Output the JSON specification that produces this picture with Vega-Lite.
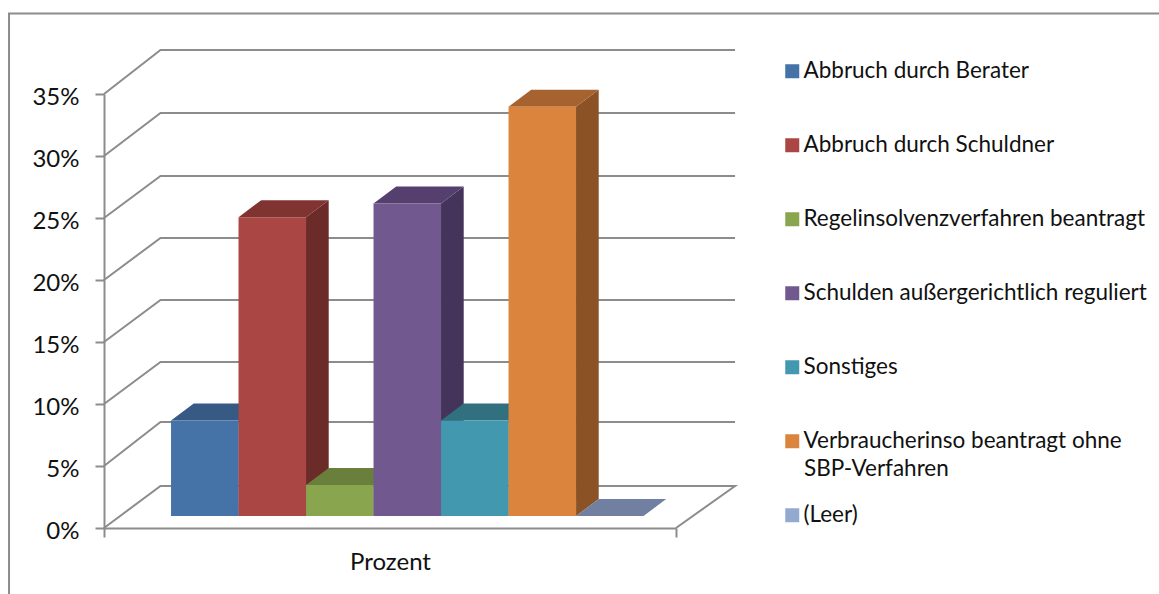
{"$schema":"https://vega.github.io/schema/vega-lite/v6.json","width":572,"height":434,"autosize":"none","padding":{"left":104,"top":94,"right":483,"bottom":66},"background":"white","config":{"view":{"stroke":null},"font":"Lato"},
"datasets":{
"bars":[{"k":"Abbruch durch Berater","v":7.7,"s":0,"e":1},{"k":"Abbruch durch Schuldner","v":24.1,"s":1,"e":2},{"k":"Regelinsolvenzverfahren beantragt","v":2.5,"s":2,"e":3},{"k":"Schulden außergerichtlich reguliert","v":25.2,"s":3,"e":4},{"k":"Sonstiges","v":7.7,"s":4,"e":5},{"k":"Verbraucherinso beantragt ohne SBP-Verfahren","v":33,"s":5,"e":6},{"k":"(Leer)","v":0,"s":6,"e":7}],
"faces":[
{"f":"a-side","o":0,"x":1,"y":0},{"f":"a-side","o":1,"x":1.336,"y":1.37},{"f":"a-side","o":2,"x":1.336,"y":9.07},{"f":"a-side","o":3,"x":1,"y":7.7},
{"f":"a-top","o":0,"x":0,"y":7.7},{"f":"a-top","o":1,"x":1,"y":7.7},{"f":"a-top","o":2,"x":1.336,"y":9.07},{"f":"a-top","o":3,"x":0.336,"y":9.07},
{"f":"b-side","o":0,"x":2,"y":0},{"f":"b-side","o":1,"x":2.336,"y":1.37},{"f":"b-side","o":2,"x":2.336,"y":25.47},{"f":"b-side","o":3,"x":2,"y":24.1},
{"f":"b-top","o":0,"x":1,"y":24.1},{"f":"b-top","o":1,"x":2,"y":24.1},{"f":"b-top","o":2,"x":2.336,"y":25.47},{"f":"b-top","o":3,"x":1.336,"y":25.47},
{"f":"c-side","o":0,"x":3,"y":0},{"f":"c-side","o":1,"x":3.336,"y":1.37},{"f":"c-side","o":2,"x":3.336,"y":3.87},{"f":"c-side","o":3,"x":3,"y":2.5},
{"f":"c-top","o":0,"x":2,"y":2.5},{"f":"c-top","o":1,"x":3,"y":2.5},{"f":"c-top","o":2,"x":3.336,"y":3.87},{"f":"c-top","o":3,"x":2.336,"y":3.87},
{"f":"d-side","o":0,"x":4,"y":0},{"f":"d-side","o":1,"x":4.336,"y":1.37},{"f":"d-side","o":2,"x":4.336,"y":26.57},{"f":"d-side","o":3,"x":4,"y":25.2},
{"f":"d-top","o":0,"x":3,"y":25.2},{"f":"d-top","o":1,"x":4,"y":25.2},{"f":"d-top","o":2,"x":4.336,"y":26.57},{"f":"d-top","o":3,"x":3.336,"y":26.57},
{"f":"e-side","o":0,"x":5,"y":0},{"f":"e-side","o":1,"x":5.336,"y":1.37},{"f":"e-side","o":2,"x":5.336,"y":9.07},{"f":"e-side","o":3,"x":5,"y":7.7},
{"f":"e-top","o":0,"x":4,"y":7.7},{"f":"e-top","o":1,"x":5,"y":7.7},{"f":"e-top","o":2,"x":5.336,"y":9.07},{"f":"e-top","o":3,"x":4.336,"y":9.07},
{"f":"f-side","o":0,"x":6,"y":0},{"f":"f-side","o":1,"x":6.336,"y":1.37},{"f":"f-side","o":2,"x":6.336,"y":34.37},{"f":"f-side","o":3,"x":6,"y":33},
{"f":"f-top","o":0,"x":5,"y":33},{"f":"f-top","o":1,"x":6,"y":33},{"f":"f-top","o":2,"x":6.336,"y":34.37},{"f":"f-top","o":3,"x":5.336,"y":34.37},
{"f":"g-top","o":0,"x":6,"y":0},{"f":"g-top","o":1,"x":7,"y":0},{"f":"g-top","o":2,"x":7.336,"y":1.37},{"f":"g-top","o":3,"x":6.336,"y":1.37}],
"walls":[
{"w":"35","o":0,"x":-0.993,"y":35},{"w":"35","o":1,"x":-0.156,"y":38.55},{"w":"35","o":2,"x":8.356,"y":38.55},
{"w":"30","o":0,"x":-0.993,"y":30},{"w":"30","o":1,"x":-0.156,"y":33.47},{"w":"30","o":2,"x":8.356,"y":33.47},
{"w":"25","o":0,"x":-0.993,"y":25},{"w":"25","o":1,"x":-0.156,"y":28.39},{"w":"25","o":2,"x":8.356,"y":28.39},
{"w":"20","o":0,"x":-0.993,"y":20},{"w":"20","o":1,"x":-0.156,"y":23.39},{"w":"20","o":2,"x":8.356,"y":23.39},
{"w":"15","o":0,"x":-0.993,"y":15},{"w":"15","o":1,"x":-0.156,"y":18.39},{"w":"15","o":2,"x":8.356,"y":18.39},
{"w":"10","o":0,"x":-0.993,"y":10},{"w":"10","o":1,"x":-0.156,"y":13.39},{"w":"10","o":2,"x":8.356,"y":13.39},
{"w":"5","o":0,"x":-0.993,"y":5},{"w":"5","o":1,"x":-0.156,"y":8.55},{"w":"5","o":2,"x":8.356,"y":8.55},
{"w":"0","o":0,"x":-0.993,"y":0},{"w":"0","o":1,"x":-0.156,"y":3.39},{"w":"0","o":2,"x":8.356,"y":3.39},{"w":"0","o":3,"x":7.481,"y":0},
{"w":"frame","o":0,"x":-2.4,"y":-5.4},{"w":"frame","o":1,"x":-2.4,"y":41.49},{"w":"frame","o":2,"x":14.7,"y":41.49}],
"notes":[{"t":"SBP-Verfahren","x":9.378,"y":4.76}]
},
"layer":[
{"data":{"name":"walls"},"mark":{"type":"line","color":"#8c8c8c","strokeWidth":2,"clip":false},
"encoding":{"x":{"field":"x","type":"quantitative","scale":{"domain":[-0.993,7.481],"nice":false,"zero":false},"axis":{"values":[-0.993,7.481],"labels":false,"grid":false,"tickSize":9,"tickColor":"#8c8c8c","tickWidth":2,"domainColor":"#8c8c8c","domainWidth":2,"title":"Prozent","titleFont":"Lato","titleFontSize":24,"titleFontWeight":"normal","titleColor":"#111","titlePadding":12}},
"y":{"field":"y","type":"quantitative","scale":{"domain":[0,35],"nice":false,"zero":false},"axis":{"values":[0,5,10,15,20,25,30,35],"labelExpr":"datum.value + '%'","labelFont":"Lato","labelFontSize":24,"labelColor":"#111","labelPadding":16,"labelOffset":3,"grid":false,"tickSize":9,"tickColor":"#8c8c8c","tickWidth":2,"domainColor":"#8c8c8c","domainWidth":2,"title":null}},
"detail":{"field":"w"},"order":{"field":"o"}}},
{"data":{"name":"faces"},"mark":{"type":"line","filled":true,"strokeWidth":0,"yOffset":-12,"clip":false},
"encoding":{"x":{"field":"x","type":"quantitative","axis":null},"y":{"field":"y","type":"quantitative","axis":null},
"fill":{"field":"f","type":"nominal","legend":null,"scale":{"domain":["a-side","a-top","b-side","b-top","c-side","c-top","d-side","d-top","e-side","e-top","f-side","f-top","g-top"],"range":["#2f4d73","#365a84","#6b2b29","#803432","#5d7035","#6b7f3c","#44335a","#553f6e","#2a6474","#31717f","#8a5225","#a66330","#7180a0"]}},
"order":{"field":"o"}}},
{"data":{"name":"bars"},"mark":{"type":"rect","yOffset":-12,"y2Offset":-12,"clip":false},
"encoding":{"x":{"field":"s","type":"quantitative","axis":null},"x2":{"field":"e"},"y":{"field":"v","type":"quantitative","axis":null},"y2":{"datum":0},
"color":{"field":"k","type":"nominal","scale":{"domain":["Abbruch durch Berater","Abbruch durch Schuldner","Regelinsolvenzverfahren beantragt","Schulden außergerichtlich reguliert","Sonstiges","Verbraucherinso beantragt ohne SBP-Verfahren","(Leer)"],"range":["#4572a7","#aa4643","#89a54e","#71588f","#4198af","#db843d","#93a9cf"]},
"legend":{"orient":"none","legendX":677,"legendY":-34,"title":null,"symbolType":"square","symbolSize":196,"symbolStrokeWidth":0,"symbolOpacity":1,"labelFont":"Lato","labelFontSize":22.5,"labelColor":"#111","labelLimit":400,"labelOffset":0,"rowPadding":51,"padding":0,"labelExpr":"datum.label == 'Verbraucherinso beantragt ohne SBP-Verfahren' ? 'Verbraucherinso beantragt ohne' : datum.label"}}}},
{"data":{"name":"notes"},"mark":{"type":"text","align":"left","baseline":"middle","font":"Lato","fontSize":22.5,"color":"#111","clip":false},
"encoding":{"x":{"field":"x","type":"quantitative","axis":null},"y":{"field":"y","type":"quantitative","axis":null},"text":{"field":"t"}}}
],"resolve":{"axis":{"x":"independent","y":"independent"}}}
